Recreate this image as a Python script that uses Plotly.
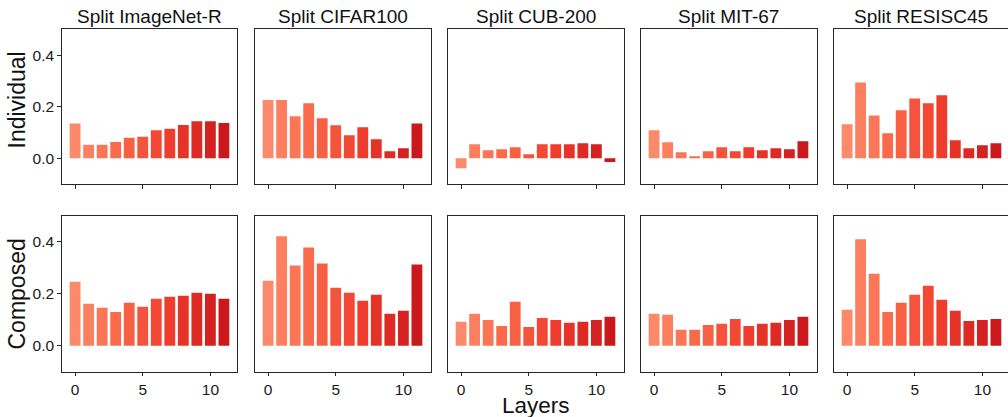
import plotly.graph_objects as go
from plotly.colors import sample_colorscale

datasets = ["Split ImageNet-R", "Split CIFAR100", "Split CUB-200", "Split MIT-67", "Split RESISC45"]
row_labels = ["Individual", "Composed"]
layers = list(range(12))
x_tick_vals = [0, 5, 10]
y_tick_vals = [0.0, 0.2, 0.4]

individual_imagenet_r = [0.135, 0.052, 0.052, 0.063, 0.079, 0.083, 0.108, 0.114, 0.129, 0.143, 0.143, 0.137]
individual_cifar100 = [0.226, 0.226, 0.163, 0.213, 0.155, 0.128, 0.089, 0.120, 0.074, 0.027, 0.039, 0.135]
individual_cub200 = [-0.039, 0.054, 0.031, 0.035, 0.043, 0.015, 0.054, 0.054, 0.054, 0.058, 0.054, -0.015]
individual_mit67 = [0.108, 0.062, 0.023, 0.008, 0.027, 0.043, 0.027, 0.043, 0.031, 0.039, 0.035, 0.066]
individual_resisc45 = [0.132, 0.294, 0.166, 0.097, 0.186, 0.232, 0.213, 0.244, 0.070, 0.039, 0.050, 0.058]

composed_imagenet_r = [0.246, 0.161, 0.146, 0.130, 0.165, 0.150, 0.181, 0.188, 0.192, 0.204, 0.200, 0.181]
composed_cifar100 = [0.250, 0.421, 0.308, 0.378, 0.316, 0.223, 0.204, 0.173, 0.196, 0.123, 0.134, 0.312]
composed_cub200 = [0.092, 0.123, 0.099, 0.076, 0.169, 0.072, 0.107, 0.099, 0.088, 0.092, 0.099, 0.111]
composed_mit67 = [0.123, 0.119, 0.061, 0.061, 0.080, 0.084, 0.103, 0.076, 0.084, 0.088, 0.099, 0.111]
composed_resisc45 = [0.138, 0.409, 0.277, 0.130, 0.165, 0.196, 0.231, 0.177, 0.134, 0.095, 0.099, 0.103]

rows = [
    [individual_imagenet_r, individual_cifar100, individual_cub200, individual_mit67, individual_resisc45],
    [composed_imagenet_r, composed_cifar100, composed_cub200, composed_mit67, composed_resisc45],
]

W, H = 1008, 417
FONT = "Liberation Sans, Arial, sans-serif"
colors = sample_colorscale("Reds", [0.4 + 0.35 * i / 11 for i in range(12)])

col_px = [(61.7, 237.3), (254.7, 430.7), (447.7, 623.7), (640.7, 816.7), (833.7, 1008.0)]
row_px = [(29.3, 184.0), (215.7, 371.7)]
px_per_unit = (237.3 - 61.7) / 12.98

fig = go.Figure()
layout = {}
for r in range(2):
    for c in range(5):
        k = r * 5 + c + 1
        fig.add_trace(go.Bar(
            x=layers, y=rows[r][c], width=0.8,
            marker=dict(color=colors, line=dict(width=0)),
            xaxis=f"x{k}", yaxis=f"y{k}", showlegend=False,
        ))
        x0, x1 = col_px[c]
        y0, y1 = row_px[r]
        xmin = -0.99
        xmax = xmin + (x1 - x0) / px_per_unit
        common = dict(showgrid=False, zeroline=False, showline=True, mirror=True,
                      linecolor="#262626", linewidth=1, ticks="outside", ticklen=3.5,
                      tickwidth=1, tickcolor="#262626",
                      tickfont=dict(family=FONT, size=15.5, color="#1a1a1a"))
        layout[f"xaxis{k}"] = dict(common, domain=[x0 / W, x1 / W], range=[xmin, xmax],
                                   anchor=f"y{k}", tickvals=x_tick_vals,
                                   showticklabels=(r == 1))
        layout[f"yaxis{k}"] = dict(common, domain=[1 - y1 / H, 1 - y0 / H], range=[-0.1, 0.5],
                                   anchor=f"x{k}", tickvals=y_tick_vals, tickformat=".1f",
                                   showticklabels=(c == 0),
                                   ticks="outside" if c == 0 else "")

annotations = []
for c, name in enumerate(datasets):
    x0, x1 = col_px[c]
    annotations.append(dict(text=name, x=(x0 + x1) / 2 / W, y=1 - 17 / H, xref="paper", yref="paper",
                            xanchor="center", yanchor="middle", showarrow=False,
                            font=dict(family=FONT, size=19, color="#111")))
for r, lab in enumerate(row_labels):
    cy = 100 if r == 0 else 294
    annotations.append(dict(text=lab, x=16.5 / W, y=1 - cy / H, xref="paper", yref="paper",
                            xanchor="center", yanchor="middle", textangle=-90, showarrow=False,
                            font=dict(family=FONT, size=23, color="#111")))
annotations.append(dict(text="Layers", x=(447.7 + 623.7) / 2 / W, y=1 - 405 / H, xref="paper", yref="paper",
                        xanchor="center", yanchor="middle", showarrow=False,
                        font=dict(family=FONT, size=22.5, color="#111")))

fig.update_layout(
    width=W, height=H, margin=dict(l=0, r=0, t=0, b=0),
    plot_bgcolor="white", paper_bgcolor="white",
    annotations=annotations, **layout,
)
fig.write_html("out.html", config={"displayModeBar": False},
               post_script="document.body.style.margin='0';document.body.style.overflow='hidden';")
